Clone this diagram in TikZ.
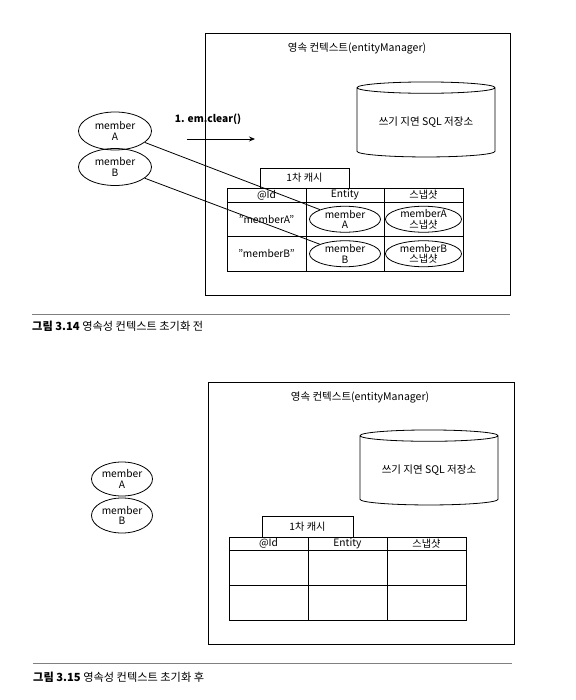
\documentclass[tikz,border=0pt]{standalone}
\usepackage{fontspec}
\setmainfont{Noto Sans CJK KR}
\usetikzlibrary{shapes.geometric,arrows.meta,positioning}

\begin{document}
\begin{tikzpicture}
  [x=1pt,y=-1pt,
   ctxBox/.style={draw,line width=1.1pt,inner sep=0pt,anchor=north west},
   storeN/.style={draw,line width=0.8pt,cylinder,shape border rotate=90,aspect=0.12,
                  inner sep=0pt,font=\fontsize{10.5}{12}\selectfont},
   memberN/.style={ellipse,draw,line width=0.8pt,inner sep=-1.5pt,align=center,
                   font=\fontsize{10.2}{10.5}\selectfont},
   cellN/.style={draw,line width=0.8pt,inner sep=0pt,font=\fontsize{10.2}{11}\selectfont},
   tabN/.style={draw,line width=0.8pt,inner sep=0pt,font=\fontsize{10.2}{11}\selectfont},
   titleN/.style={font=\fontsize{10.5}{12}\selectfont},
   capLine/.style={draw,gray,line width=0.9pt},
   capN/.style={anchor=west,inner sep=0pt,font=\fontsize{11.2}{13}\selectfont}]

  \useasboundingbox (0,0) rectangle (575,700);

  % figure 3.14
  \node[ctxBox,minimum width=305,minimum height=262] (ctxA) at (205,33) {};
  \node[titleN] (ctxTitleA) at (357,48) {영속 컨텍스트(entityManager)};
  \node[storeN,minimum width=138,minimum height=75] (storeA) at (426,122.5) {\raisebox{-4pt}{쓰기 지연 SQL 저장소}};

  \node[memberN,minimum width=73,minimum height=38] (outA1) at (115,131) {member\\A};
  \node[memberN,minimum width=73,minimum height=37] (outB1) at (115,167) {member\\B};

  \coordinate (clrS) at (187,139);
  \coordinate (clrE) at (255,139);
  \draw[line width=0.8pt,-{Stealth[length=6pt,width=5pt]}] (clrS) -- (clrE);
  \node[font=\fontsize{10.2}{11}\selectfont\bfseries] (clrL) at (208,119) {1. em.clear()};

  \node[tabN,minimum width=89,minimum height=20] (tabA) at (304.5,178) {1차 캐시};

  \node[cellN,minimum width=79,minimum height=14] (idHA)   at (266.5,195) {@Id};
  \node[cellN,minimum width=78,minimum height=14] (entHA)  at (345,195)   {Entity};
  \node[cellN,minimum width=79,minimum height=14] (snapHA) at (423.5,195) {스냅샷};
  \node[cellN,minimum width=79,minimum height=34.5] (id1A)   at (266.5,219.25) {"memberA"};
  \node[cellN,minimum width=78,minimum height=34.5] (ent1A)  at (345,219.25)   {};
  \node[cellN,minimum width=79,minimum height=34.5] (snap1A) at (423.5,219.25) {};
  \node[cellN,minimum width=79,minimum height=34.5] (id2A)   at (266.5,253.75) {"memberB"};
  \node[cellN,minimum width=78,minimum height=34.5] (ent2A)  at (345,253.75)   {};
  \node[cellN,minimum width=79,minimum height=34.5] (snap2A) at (423.5,253.75) {};

  \node[memberN,inner sep=-3pt,minimum width=71,minimum height=26] (inA)   at (ent1A)  {member\\A};
  \node[memberN,inner sep=-3pt,minimum width=76,minimum height=26] (snapA) at (snap1A) {memberA\\스냅샷};
  \node[memberN,inner sep=-3pt,minimum width=71,minimum height=26] (inB)   at (ent2A)  {member\\B};
  \node[memberN,inner sep=-3pt,minimum width=76,minimum height=26] (snapB) at (snap2A) {memberB\\스냅샷};

  \draw[line width=0.8pt] (outA1) -- (inA);
  \draw[line width=0.8pt] (outB1) -- (inB);

  \coordinate (sepAL) at (32,314);
  \coordinate (sepAR) at (510,314);
  \draw[capLine] (sepAL) -- (sepAR);
  \node[capN] (capA) at (32,326) {\textbf{그림 3.14} 영속성 컨텍스트 초기화 전};

  % figure 3.15
  \node[ctxBox,minimum width=306,minimum height=262] (ctxB) at (208,382) {};
  \node[titleN] (ctxTitleB) at (360,397) {영속 컨텍스트(entityManager)};
  \node[storeN,minimum width=138,minimum height=75] (storeB) at (429,470.5) {\raisebox{-4pt}{쓰기 지연 SQL 저장소}};

  \node[memberN,minimum width=61,minimum height=34] (outA2) at (122,479) {member\\A};
  \node[memberN,minimum width=61,minimum height=35] (outB2) at (122,515.5) {member\\B};

  \node[tabN,minimum width=91,minimum height=21] (tabB) at (307.5,526.5) {1차 캐시};

  \node[cellN,minimum width=79,minimum height=13] (idHB)   at (268.5,543.5) {@Id};
  \node[cellN,minimum width=79,minimum height=13] (entHB)  at (347.5,543.5) {Entity};
  \node[cellN,minimum width=79,minimum height=13] (snapHB) at (426.5,543.5) {스냅샷};
  \node[cellN,minimum width=79,minimum height=35] (id1B)   at (268.5,567.5) {};
  \node[cellN,minimum width=79,minimum height=35] (ent1B)  at (347.5,567.5) {};
  \node[cellN,minimum width=79,minimum height=35] (snap1B) at (426.5,567.5) {};
  \node[cellN,minimum width=79,minimum height=35] (id2B)   at (268.5,602.5) {};
  \node[cellN,minimum width=79,minimum height=35] (ent2B)  at (347.5,602.5) {};
  \node[cellN,minimum width=79,minimum height=35] (snap2B) at (426.5,602.5) {};

  \coordinate (sepBL) at (33,663);
  \coordinate (sepBR) at (512,663);
  \draw[capLine] (sepBL) -- (sepBR);
  \node[capN] (capB) at (33,677) {\textbf{그림 3.15} 영속성 컨텍스트 초기화 후};

\end{tikzpicture}
\end{document}
